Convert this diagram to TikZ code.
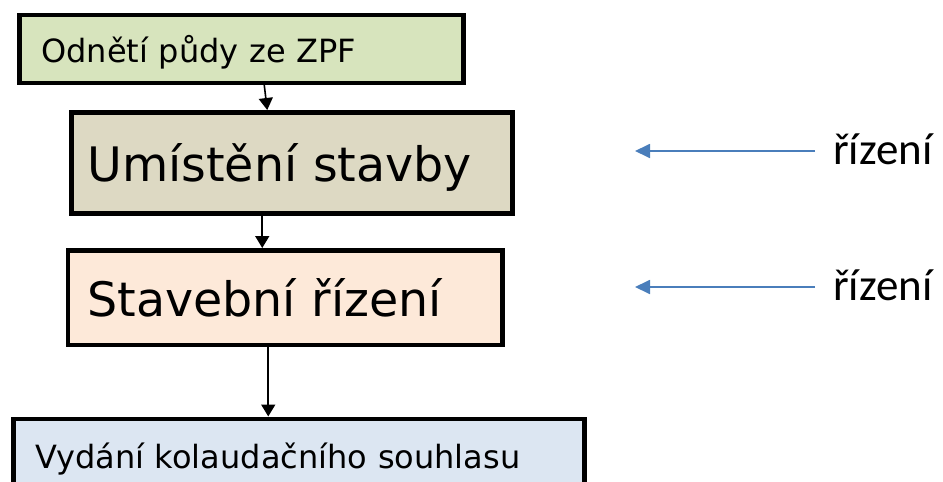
\documentclass[tikz,border=0pt]{standalone}
\usepackage{fontspec}
\setmainfont{DejaVu Sans}
\newfontfamily\calibrifont{Carlito}
\usetikzlibrary{arrows.meta}
\definecolor{zpfgreen}{HTML}{D7E4BD}
\definecolor{umbeige}{HTML}{DDD9C3}
\definecolor{stavpeach}{HTML}{FDE9D9}
\definecolor{kolblue}{HTML}{DCE6F2}
\definecolor{arrowblue}{HTML}{4A7EBB}
\begin{document}
\begin{tikzpicture}[x=1pt,y=-1pt,
    box/.style={draw,line width=4.5pt,anchor=north west,align=left},
    flow/.style={line width=1.6pt,-{Triangle[width=14pt,length=12pt]}},
    back/.style={draw=arrowblue,line width=1.8pt,-{Triangle[width=14pt,length=15pt]}}]
  \clip (0,0) rectangle (943,482);
  \node[box,fill=zpfgreen,text width=400pt,inner xsep=22pt,minimum height=68pt,text depth=0pt,
    font=\fontsize{32}{38}\selectfont] (zpf) at (17,12.5) {Odnětí půdy ze ZPF};
  \node[box,fill=umbeige,text width=409pt,inner xsep=16pt,minimum height=101pt,text depth=0pt,
    font=\fontsize{47.5}{57}\selectfont] (umisteni) at (69,110) {Umístění stavby};
  \node[box,fill=stavpeach,text width=395.5pt,inner xsep=19.5pt,minimum height=94.5pt,text depth=0pt,
    font=\fontsize{47.5}{57}\selectfont] (stavebni) at (65.5,248) {Stavební řízení};
  \node[box,fill=kolblue,text width=527pt,inner xsep=22pt,minimum height=80pt,
    font=\fontsize{32}{38}\selectfont] (kolaudace) at (11,416.5) {Vydání kolaudačního souhlasu};
  \draw[flow] ([xshift=23pt]zpf.south) -- ([xshift=-24.5pt]umisteni.north);
  \draw[flow] ([xshift=-29.5pt]umisteni.south) -- ([xshift=-22.75pt]stavebni.north);
  \draw[flow] ([xshift=-16.75pt]stavebni.south) -- ([xshift=-30.5pt]kolaudace.north);
  % rizeni on the right
  \node[anchor=base west,inner sep=0pt,font=\calibrifont\fontsize{45}{54}\selectfont] (r1) at (815,164) {\hspace{18pt}řízení};
  \node[anchor=base west,inner sep=0pt,font=\calibrifont\fontsize{45}{54}\selectfont] (r2) at (815,300) {\hspace{18pt}řízení};
  \coordinate (t1) at (635,151); \coordinate (t2) at (635,287);
  \draw[back] ([yshift=13pt]r1.base west) -- (t1);
  \draw[back] ([yshift=13pt]r2.base west) -- (t2);
\end{tikzpicture}
\end{document}
